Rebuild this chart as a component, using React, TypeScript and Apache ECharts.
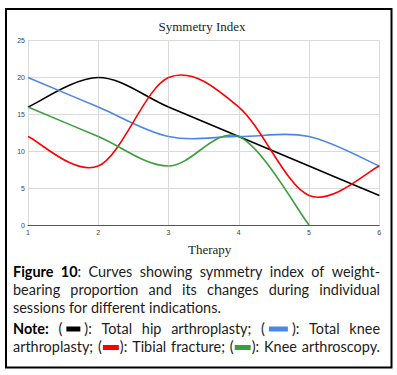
import React, { useEffect, useRef } from "react";
import * as echarts from "echarts";

// ---- data ----
const therapies = [1, 2, 3, 4, 5, 6];
const totalHip = [16, 20, 16, 12, 8, 4];
const totalKnee = [20, 16, 12, 12, 12, 8];
const tibialFracture = [12, 8, 20, 16, 4, 8];
const kneeArthroscopy: (number | null)[] = [16, 12, 8, 12, 0, null];
const yTicks = [0, 5, 10, 15, 20, 25];
const seriesNames = ["Total hip arthroplasty", "Total knee arthroplasty", "Tibial fracture", "Knee arthroscopy"];
const seriesColors = ["#000000", "#4a86e8", "#ff0000", "#3a9f3a"];
const chartTitle = "Symmetry Index";
const xAxisTitle = "Therapy";

type Seg = { t?: string; b?: boolean; sw?: string; w?: number; gl?: number; gr?: number };
type Line = { justify: boolean; words: Seg[][] };

const captionLines: Line[] = [
  {
    justify: true,
    words: [
      [{ t: "Figure", b: true }],
      [{ t: "10", b: true }, { t: ":" }],
      [{ t: "Curves" }],
      [{ t: "showing" }],
      [{ t: "symmetry" }],
      [{ t: "index" }],
      [{ t: "of" }],
      [{ t: "weight-" }],
    ],
  },
  {
    justify: true,
    words: [
      [{ t: "bearing" }],
      [{ t: "proportion" }],
      [{ t: "and" }],
      [{ t: "its" }],
      [{ t: "changes" }],
      [{ t: "during" }],
      [{ t: "individual" }],
    ],
  },
  {
    justify: false,
    words: [[{ t: "sessions" }], [{ t: "for" }], [{ t: "different" }], [{ t: "indications." }]],
  },
  {
    justify: true,
    words: [
      [{ t: "Note:", b: true }],
      [{ t: "(" }, { sw: "#000000", w: 14, gl: 4, gr: 4 }, { t: "):" }],
      [{ t: "Total" }],
      [{ t: "hip" }],
      [{ t: "arthroplasty;" }],
      [{ t: "(" }, { sw: "#4a86e8", w: 19, gl: 4, gr: 4 }, { t: "):" }],
      [{ t: "Total" }],
      [{ t: "knee" }],
    ],
  },
  {
    justify: true,
    words: [
      [{ t: "arthroplasty;" }],
      [{ t: "(" }, { sw: "#ff0000", w: 16, gl: 1, gr: 1 }, { t: "):" }],
      [{ t: "Tibial" }],
      [{ t: "fracture;" }],
      [{ t: "(" }, { sw: "#3a9f3a", w: 16, gl: 1, gr: 1 }, { t: "):" }],
      [{ t: "Knee" }],
      [{ t: "arthroscopy." }],
    ],
  },
];
const captionLineY = [271.5, 289.5, 307.5, 328, 346.5];

// Build segment records [xPrev, yPrev, x0, y0, x1, y1, xNext, yNext] from a series
function segmentsFor(arr: (number | null)[]) {
  const out: number[][] = [];
  for (let i = 0; i < arr.length - 1; i++) {
    const a = arr[i];
    const b = arr[i + 1];
    if (a === null || b === null) continue;
    const hasPrev = i - 1 >= 0 && arr[i - 1] !== null;
    const hasNext = i + 2 < arr.length && arr[i + 2] !== null;
    const px = hasPrev ? therapies[i - 1] : therapies[i];
    const py = hasPrev ? (arr[i - 1] as number) : a;
    const nx = hasNext ? therapies[i + 2] : therapies[i + 1];
    const ny = hasNext ? (arr[i + 2] as number) : b;
    out.push([px, py, therapies[i], a, therapies[i + 1], b, nx, ny]);
  }
  return out;
}

export default function App() {
  const ref = useRef<HTMLDivElement>(null);
  useEffect(() => {
    if (!ref.current) return;
    const chart = echarts.init(ref.current, undefined, { renderer: "svg" });

    // caption layout (justified text)
    const canvas = document.createElement("canvas");
    const ctx = canvas.getContext("2d")!;
    const fam = "Lato";
    const measure = (t: string, b: boolean, size: number) => {
      ctx.font = `${b ? "bold " : ""}${size}px ${fam}`;
      return ctx.measureText(t).width;
    };
    const ref3 = measure("sessions for different indications.", false, 14);
    const fontSize = Math.max(12, Math.min(15.5, (14 * 208) / ref3));
    const left = 13;
    const right = 380;
    const textColor = "#1c1c1c";
    const graphics: any[] = [];
    const segW = (s: Seg) => (s.sw ? (s.w || 14) + (s.gl || 0) + (s.gr || 0) : measure(s.t || "", !!s.b, fontSize));
    captionLines.forEach((line, li) => {
      const y = captionLineY[li];
      const widths = line.words.map((w) => w.reduce((a, s) => a + segW(s), 0));
      const total = widths.reduce((a, b) => a + b, 0);
      const gap = line.justify
        ? (right - left - total) / (line.words.length - 1)
        : measure(" ", false, fontSize);
      let x = left;
      line.words.forEach((word, wi) => {
        let cx = x;
        word.forEach((s) => {
          if (s.sw) {
            graphics.push({
              type: "rect",
              shape: { x: cx + (s.gl || 0), y: y - 1.5, width: s.w || 14, height: 5 },
              style: { fill: s.sw },
            });
          } else {
            graphics.push({
              type: "text",
              x: cx,
              y,
              style: {
                text: s.t,
                fontFamily: fam,
                fontSize,
                fontWeight: s.b ? "bold" : "normal",
                fill: s.b ? "#000" : textColor,
                align: "left",
                verticalAlign: "middle",
              },
            });
          }
          cx += segW(s);
        });
        x += widths[wi] + gap;
      });
    });

    const values = [totalHip, totalKnee, tibialFracture, kneeArthroscopy];

    // Catmull-Rom curve segment drawn through the axes' scales
    const makeRender = (color: string) => (params: any, api: any) => {
      const p0 = api.coord([api.value(0), api.value(1)]);
      const p1 = api.coord([api.value(2), api.value(3)]);
      const p2 = api.coord([api.value(4), api.value(5)]);
      const p3 = api.coord([api.value(6), api.value(7)]);
      const cp1 = [p1[0] + (p2[0] - p0[0]) / 6, p1[1] + (p2[1] - p0[1]) / 6];
      const cp2 = [p2[0] - (p3[0] - p1[0]) / 6, p2[1] - (p3[1] - p1[1]) / 6];
      return {
        type: "bezierCurve",
        shape: {
          x1: p1[0],
          y1: p1[1],
          x2: p2[0],
          y2: p2[1],
          cpx1: cp1[0],
          cpy1: cp1[1],
          cpx2: cp2[0],
          cpy2: cp2[1],
        },
        style: { stroke: color, lineWidth: 1.6, fill: "none" },
      };
    };

    const option: any = {
      animation: false,
      backgroundColor: "#ffffff",
      grid: { left: 28, top: 40.7, right: 17.7, bottom: 150, containLabel: false },
      xAxis: {
        type: "value",
        min: therapies[0],
        max: therapies[therapies.length - 1],
        interval: 1,
        axisLine: { show: true, onZero: false, lineStyle: { color: "#555", width: 1 } },
        axisTick: { show: false },
        axisLabel: { fontSize: 7, color: "#444", fontFamily: "Liberation Sans", margin: 4 },
        splitLine: { show: true, lineStyle: { color: "#dadada", width: 1 } },
      },
      yAxis: {
        type: "value",
        min: yTicks[0],
        max: yTicks[yTicks.length - 1],
        interval: 5,
        axisLine: { show: false },
        axisTick: { show: false },
        axisLabel: { fontSize: 7, color: "#444", fontFamily: "Liberation Sans", margin: 3 },
        splitLine: { show: true, lineStyle: { color: "#dadada", width: 1 } },
      },
      series: values.map((arr, i) => ({
        name: seriesNames[i],
        type: "custom",
        data: segmentsFor(arr),
        encode: { x: [2, 4], y: [3, 5] },
        renderItem: makeRender(seriesColors[i]),
        clip: false,
        silent: true,
      })),
      graphic: [
        {
          type: "rect",
          shape: { x: 6, y: 9, width: 385.5, height: 358.5 },
          style: { fill: "none", stroke: "#000", lineWidth: 2 },
        },
        {
          type: "text",
          x: 202,
          y: 26,
          style: {
            text: chartTitle,
            fontFamily: "Liberation Serif",
            fontSize: 13,
            fill: "#222",
            align: "center",
            verticalAlign: "middle",
          },
        },
        {
          type: "text",
          x: 209.7,
          y: 249.5,
          style: {
            text: xAxisTitle,
            fontFamily: "Liberation Serif",
            fontSize: 13,
            fill: "#222",
            align: "center",
            verticalAlign: "middle",
          },
        },
        ...graphics,
      ],
    };
    chart.setOption(option);
    return () => chart.dispose();
  }, []);
  return (
    <div
      ref={ref}
      style={{ position: "absolute", left: 0, top: 0, width: 397, height: 375, background: "#fff" }}
    />
  );
}
